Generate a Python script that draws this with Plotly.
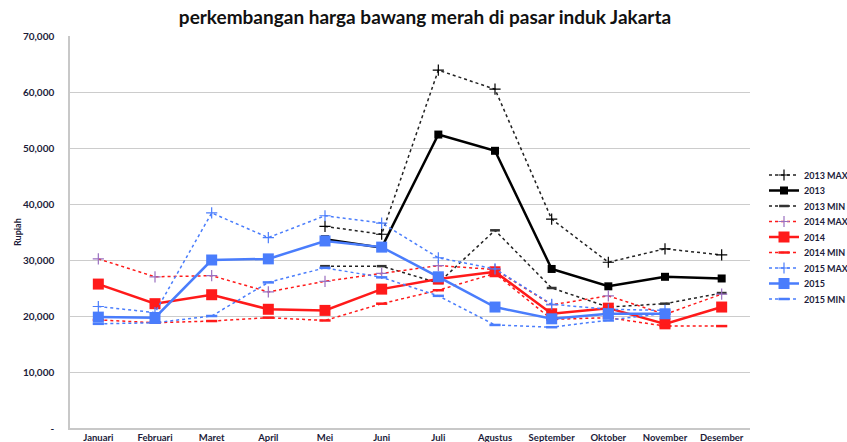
import plotly.graph_objects as go

months = ["Januari", "Februari", "Maret", "April", "Mei", "Juni", "Juli",
          "Agustus", "September", "Oktober", "November", "Desember"]

max_2013 = [None, None, None, None, 36000, 34600, 63900, 60500, 37300, 29600, 32000, 30900]
avg_2013 = [None, None, None, None, 33700, 32200, 52400, 49500, 28400, 25300, 27000, 26700]
min_2013 = [None, None, None, None, 28900, 28900, 25900, 35300, 25000, 21600, 22200, 24100]

max_2014 = [30200, 27000, 27200, 24300, 26200, 27600, 29000, 28300, 22000, 23600, 20300, 23900]
avg_2014 = [25700, 22200, 23800, 21200, 21000, 24800, 26600, 27900, 20400, 21400, 18600, 21600]
min_2014 = [19300, 18800, 19100, 19700, 19200, 22200, 24600, 27600, 19400, 19700, 18200, 18200]

max_2015 = [21700, 20600, 38400, 34000, 37900, 36600, 30400, 28400, 22100, 21200, 21000, None]
avg_2015 = [19800, 19700, 30000, 30200, 33400, 32300, 27000, 21600, 19500, 20400, 20400, None]
min_2015 = [18600, 18800, 20000, 26000, 28600, 26900, 23600, 18400, 18000, 19200, 20500, None]

y_ticks = [0, 10000, 20000, 30000, 40000, 50000, 60000, 70000]
y_tick_text = ["-", "10,000", "20,000", "30,000", "40,000", "50,000", "60,000", "70,000"]

BLACK = "#000000"
RED = "#ff1a1a"
BLUE = "#4a7dfc"
PURPLE = "#9a6fc0"
TXT = "#1c1c3a"

fig = go.Figure()
legend_names = []

def add(name, y, color, dash, width, symbol, msize, mcolor=None, mline=1.0):
    mcolor = mcolor or color
    if symbol == "square":
        marker = dict(symbol="square", size=msize, color=mcolor)
    else:
        marker = dict(symbol=symbol, size=msize, color=mcolor,
                      line=dict(width=mline, color=mcolor))
    idx = len(legend_names) + 1
    lg = "legend" if idx == 1 else f"legend{idx}"
    legend_names.append(lg)
    fig.add_trace(go.Scatter(
        x=months, y=y, name=name, mode="lines+markers",
        line=dict(color=color, width=width, dash=dash),
        marker=marker, connectgaps=False, legend=lg,
    ))

add("2013 MAX", max_2013, "#222222", "dot", 1.5, "cross-thin", 8, BLACK, 1.2)
add("2013", avg_2013, BLACK, "solid", 2.5, "square", 8)
add("2013 MIN", min_2013, "#222222", "dot", 1.5, "line-ew", 7, "#333333", 2.5)
add("2014 MAX", max_2014, RED, "dot", 1.5, "cross-thin", 8, PURPLE, 1.2)
add("2014", avg_2014, RED, "solid", 2.5, "square", 11)
add("2014 MIN", min_2014, RED, "dot", 1.5, "line-ew", 8, RED, 2.5)
add("2015 MAX", max_2015, BLUE, "dot", 1.5, "cross-thin", 8, BLUE, 1.2)
add("2015", avg_2015, BLUE, "solid", 2.5, "square", 11)
add("2015 MIN", min_2015, BLUE, "dot", 1.5, "line-ew", 8, BLUE, 2.5)

# plot area (page px): x 70..750, y 36..428
PLOT_TOP, PLOT_H = 36, 392
legend_layout = {}
for i, lg in enumerate(legend_names):
    row_y = 175 + i * 15.5
    legend_layout[lg] = dict(
        x=(764 - 70) / 680, y=(PLOT_TOP + PLOT_H - row_y) / PLOT_H, xanchor="left", yanchor="middle",
        font=dict(size=9, color=TXT, family="Lato", weight="bold"),
        bgcolor="rgba(0,0,0,0)", itemwidth=30, borderwidth=0,
    )

fig.update_layout(
    width=847, height=442,
    margin=dict(l=70, r=97, t=36, b=14, autoexpand=False),
    paper_bgcolor="white", plot_bgcolor="white",
    font=dict(family="Lato", color=TXT),
    title=dict(text="perkembangan harga bawang merah di pasar induk Jakarta",
               x=(425 - 70) / 680, xref="paper", xanchor="center",
               yref="container", y=1 - 17.5 / 442, yanchor="middle",
               font=dict(size=19, color="#111111", family="Lato", weight="bold")),
    showlegend=True,
    xaxis=dict(type="category", range=[-0.5, 11.5], showgrid=False, automargin=False,
               showline=True, linecolor="#c8c8c8", linewidth=1.5,
               ticks="", tickfont=dict(size=9.5, color=TXT, family="Lato", weight="bold"),
               ticklabelstandoff=0),
    yaxis=dict(range=[0, 70000], tickvals=y_ticks, ticktext=y_tick_text, automargin=False,
               showgrid=True, gridcolor="#cccccc", gridwidth=1,
               showline=True, linecolor="#c8c8c8", linewidth=1.5,
               ticks="", tickfont=dict(size=10, color=TXT, family="Lato", weight="bold"),
               ticklabelstandoff=12, zeroline=False),
    annotations=[dict(text="Rupiah", textangle=-90, xref="paper", yref="paper",
                      x=(17 - 70) / 680, y=0.5, xanchor="center", yanchor="middle",
                      showarrow=False,
                      font=dict(size=9, color=TXT, family="Lato", weight="bold"))],
    **legend_layout,
)

fig.write_html("out.html", config={"displayModeBar": False},
               post_script="document.body.style.margin='0px';document.body.style.overflow='hidden';")
